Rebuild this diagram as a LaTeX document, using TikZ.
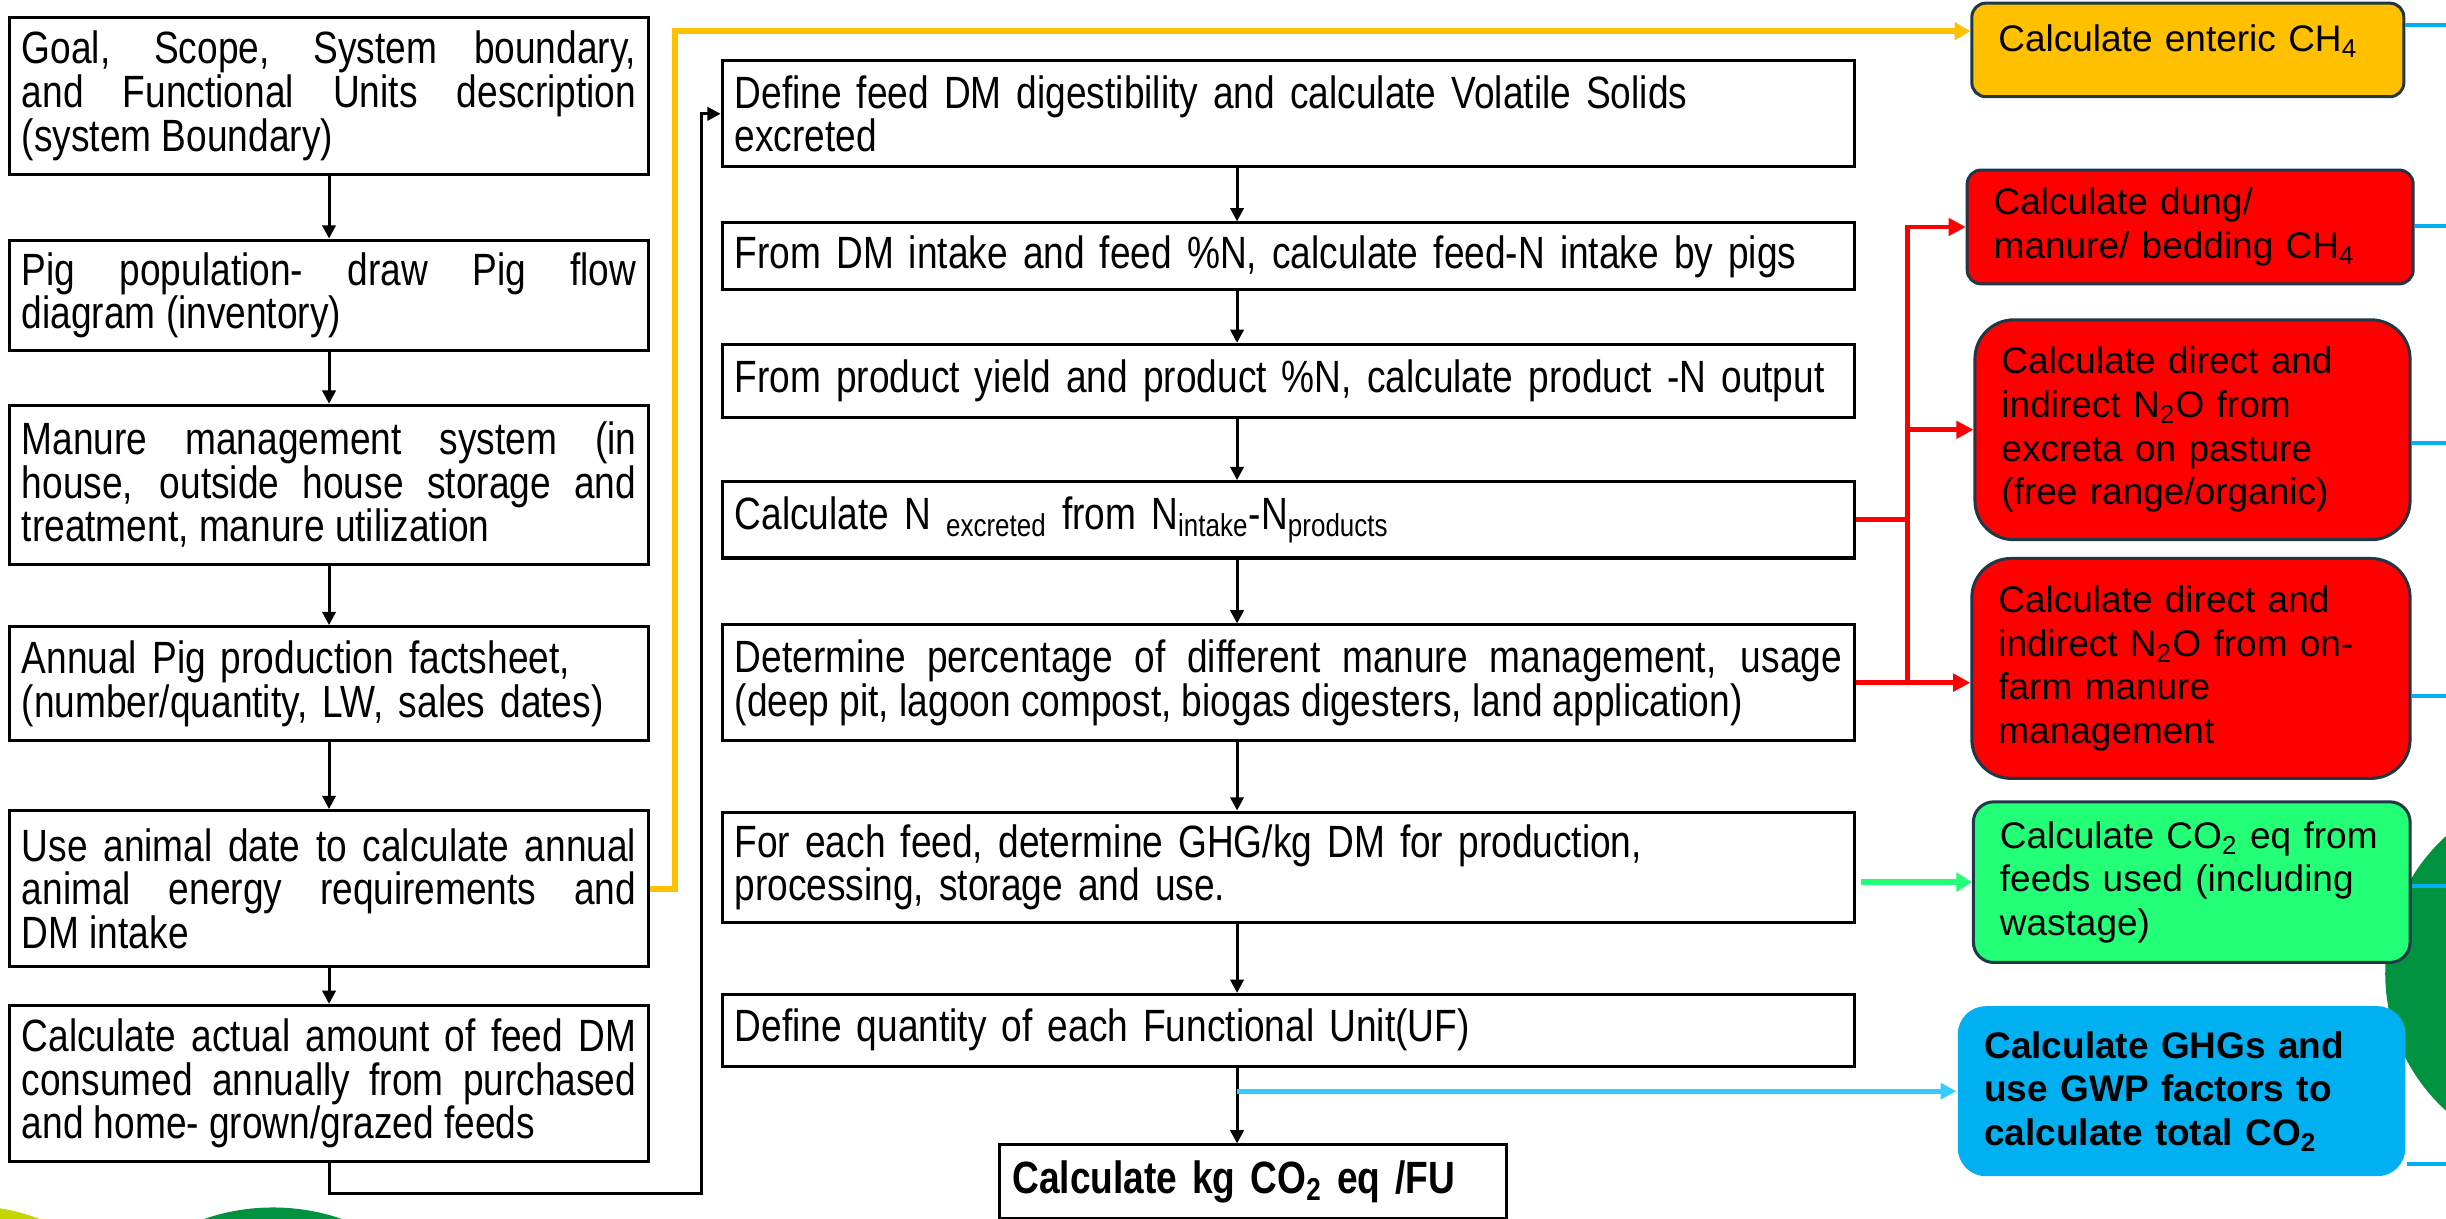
\documentclass[tikz,border=0pt]{standalone}
\usepackage{fontspec}
\setmainfont{Liberation Sans}
\newfontfamily\narrowsans[FakeStretch=0.82]{Liberation Sans}
\usetikzlibrary{arrows.meta,positioning}
\definecolor{boxslate}{RGB}{31,56,71}
\definecolor{ch4orange}{RGB}{255,192,0}
\definecolor{n2ored}{RGB}{255,0,0}
\definecolor{feedgreen}{RGB}{36,255,120}
\definecolor{ghgblue}{RGB}{0,176,240}
\definecolor{linkcyan}{RGB}{51,204,255}
\definecolor{leafgreen}{RGB}{0,146,63}
\definecolor{limegreen}{RGB}{196,214,0}

\begin{document}
\begin{tikzpicture}[
  x=0.02cm, y=-0.02cm,
  font=\narrowsans\fontsize{16.5pt}{15.9pt}\selectfont,
  stepbox/.style={draw, line width=1.1pt, inner xsep=0.16cm, inner ysep=0pt, minimum width=8.2cm, text width=7.88cm, align=justify},
  calcbox/.style={draw, line width=1.1pt, inner xsep=0.16cm, inner ysep=0pt, minimum width=14.52cm, text width=14.2cm, align=left},
  outbox/.style={draw=boxslate, line width=1.1pt, inner xsep=0.34cm, inner ysep=0pt, align=left, font=\rmfamily\fontsize{13.5pt}{15.9pt}\selectfont},
  arr/.style={-{Triangle[length=0.17cm,width=0.17cm]}, line width=1.1pt},
  redline/.style={draw=n2ored, line width=1.8pt},
  redarr/.style={redline, -{Triangle[length=0.22cm,width=0.22cm]}},
  yellowarr/.style={draw=ch4orange, line width=2.2pt, -{Triangle[length=0.2cm,width=0.22cm]}},
  greenarr/.style={draw=feedgreen, line width=2.4pt, -{Triangle[length=0.2cm,width=0.24cm]}},
  cyanarr/.style={draw=linkcyan, line width=1.8pt, -{Triangle[length=0.2cm,width=0.2cm]}},
  edgeline/.style={draw=ghgblue, line width=1.6pt}
]
\useasboundingbox (0,0) rectangle (1568,781);
\clip (0,0) rectangle (1568,781);

% leaf shapes behind everything
\fill[limegreen] (-20,900) circle[radius=2.54cm];
\fill[leafgreen] (175,909) circle[radius=2.7cm];
\fill[leafgreen] (1648,624) circle[radius=2.38cm];

% inventory steps
\node[stepbox, anchor=north west, minimum height=2.02cm] (goal) at (5,10) {Goal, Scope, System boundary,\linebreak and Functional Units description\linebreak (system Boundary)};
\node[stepbox, below=0.8cm of goal, minimum height=1.42cm] (pigpop) {Pig population- draw Pig flow\linebreak diagram (inventory)};
\node[stepbox, below=0.66cm of pigpop, minimum height=2.04cm] (manure) {Manure management system (in\linebreak house, outside house storage and\linebreak treatment, manure utilization};
\node[stepbox, align=left, below=0.76cm of manure, minimum height=1.46cm] (factsheet) {Annual Pig production factsheet,\\ (number/quantity, LW, sales dates)};
\node[stepbox, below=0.86cm of factsheet, minimum height=2.0cm] (energy) {Use animal date to calculate annual\linebreak animal energy requirements and\linebreak DM intake};
\node[stepbox, below=0.46cm of energy, minimum height=2.0cm] (feeddm) {Calculate actual amount of feed DM\linebreak consumed annually from purchased\linebreak and home- grown/grazed feeds};

% calculation chain
\node[calcbox, anchor=north west, minimum height=1.36cm] (digest) at (462,38) {Define feed DM digestibility and calculate Volatile Solids\\ excreted};
\node[calcbox, below=0.68cm of digest, minimum height=0.86cm] (nintake) {From DM intake and feed \%N, calculate feed-N intake by pigs};
\node[calcbox, below=0.66cm of nintake, minimum height=0.94cm] (noutput) {From product yield and product \%N, calculate product -N output};
\node[calcbox, below=0.78cm of noutput, minimum height=0.98cm] (nexcr) {Calculate N \textsubscript{excreted} from N\textsubscript{intake}-N\textsubscript{products}};
\node[calcbox, align=justify, below=0.82cm of nexcr, minimum height=1.48cm] (mms) {Determine percentage of different manure management, usage\linebreak (deep pit, lagoon compost, biogas digesters, land application)};
\node[calcbox, below=0.88cm of mms, minimum height=1.42cm] (feedghg) {For each feed, determine GHG/kg DM for production,\\ processing, storage and use.};
\node[calcbox, below=0.88cm of feedghg, minimum height=0.92cm] (funit) {Define quantity of each Functional Unit(UF)};
\node[calcbox, anchor=north west, minimum width=6.5cm, text width=6.18cm, minimum height=0.94cm] (total) at (640,733) {\textbf{Calculate kg CO\textsubscript{2} eq /FU}};

% emission sources
\node[outbox, fill=ch4orange, rounded corners=0.18cm, minimum width=5.54cm, text width=4.86cm, minimum height=1.2cm, text height=0.35cm, text depth=0.3cm] (ch4) at (1402.5,32) {Calculate enteric CH\textsubscript{4}};
\node[outbox, fill=n2ored, rounded corners=0.18cm, minimum width=5.72cm, text width=5.04cm, minimum height=1.46cm] (dung) at (1404,145.5) {Calculate dung/\\ manure/ bedding CH\textsubscript{4}};
\node[outbox, fill=n2ored, rounded corners=0.5cm, minimum width=5.58cm, text width=4.9cm, minimum height=2.82cm] (pasture) at (1405.5,275.5) {Calculate direct and\\ indirect N\textsubscript{2}O from\\ excreta on pasture\\ (free range/organic)};
\node[outbox, fill=n2ored, rounded corners=0.5cm, minimum width=5.62cm, text width=4.94cm, minimum height=2.82cm] (onfarm) at (1404.5,428.5) {Calculate direct and\\ indirect N\textsubscript{2}O from on-\\ farm manure\\ management};
\node[outbox, fill=feedgreen, rounded corners=0.26cm, minimum width=5.6cm, text width=4.92cm, minimum height=2.06cm] (co2feed) at (1405,565.5) {Calculate CO\textsubscript{2} eq from\\ feeds used (including\\ wastage)};
\node[outbox, draw=none, fill=ghgblue, rounded corners=0.36cm, minimum width=5.74cm, text width=5.06cm, minimum height=2.18cm] (ghg) at (1398.5,699.5) {\bfseries Calculate GHGs and\\ use GWP factors to\\ calculate total CO\textsubscript{2}};

\foreach \a/\b in {goal/pigpop, pigpop/manure, manure/factsheet, factsheet/energy, energy/feeddm}
  \draw[arr] (\a) -- (\b);

\coordinate (mx) at (793,0);
\foreach \a/\b in {digest/nintake, nintake/noutput, noutput/nexcr, nexcr/mms, mms/feedghg, feedghg/funit, funit/total}
  \draw[arr] (\a.south -| mx) -- (\b.north -| mx);

\coordinate (loopfoot) at (450,765);
\draw[arr] (feeddm.south) |- (loopfoot) |- (digest.west);

\coordinate (ylink) at (433,20);
\draw[yellowarr] (energy.east) -| (ylink) -- (ylink -| ch4.west);

\coordinate (bus) at (1223,0);
\draw[redline] (nexcr.east) -- (nexcr.east -| bus);
\draw[redarr] (mms.east) -- (mms.east -| onfarm.west);
\draw[redarr] (mms.east -| bus) |- (dung.west);
\draw[redarr] (bus |- pasture.west) -- (pasture.west);

\draw[greenarr, shorten <=0.06cm] (feedghg.east |- co2feed.west) -- (co2feed.west);
\draw[cyanarr] (mx |- ghg.west) -- (ghg.west);

\foreach \n/\y in {ch4/16, dung/145, pasture/284, onfarm/446, co2feed/568, ghg/746}
  \draw[edgeline] (\n.east |- 0,\y) -- (1568,\y);
\end{tikzpicture}
\end{document}
